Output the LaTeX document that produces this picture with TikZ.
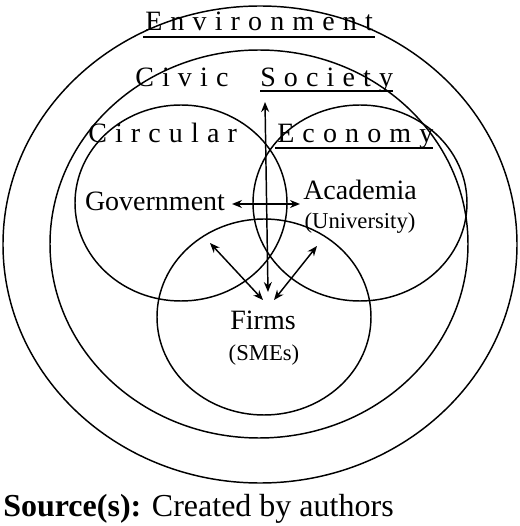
\documentclass[tikz,border=0pt]{standalone}
\usepackage{fontspec}
\setmainfont{Liberation Serif}
\usetikzlibrary{arrows.meta}
\newcommand{\ls}{\kern6.1pt}
\begin{document}
\begin{tikzpicture}[x=0.75pt,y=0.75pt,
  ring/.style={draw=black,line width=1.1pt},
  link/.style={line width=1.1pt,{Stealth[length=7.5pt,width=6pt]}-{Stealth[length=7.5pt,width=6pt]}},
  title/.style={inner sep=0pt,anchor=base west,font=\fontsize{21pt}{24pt}\selectfont},
  actor/.style={inner sep=0pt,anchor=base,font=\fontsize{21pt}{24pt}\selectfont},
  sub/.style={inner sep=0pt,anchor=base,font=\fontsize{17pt}{20pt}\selectfont},
  uline/.style={line width=1.1pt}]
\useasboundingbox (0,0) rectangle (520,526);
% circles
\draw[ring] (260,281.5) ellipse [x radius=257, y radius=238.5];
\draw[ring] (259,282) ellipse [x radius=209, y radius=194];
\draw[ring] (181,323) ellipse [x radius=106, y radius=98];
\draw[ring] (360,323) ellipse [x radius=107, y radius=98];
\draw[ring] (264,209) ellipse [x radius=107, y radius=98];
% titles
\node[title] (env) at (145,495) {E\ls n\ls v\ls i\ls r\ls o\ls n\ls m\ls e\ls n\ls t};
\draw[uline] (143,489) -- (375,489);
\node[title] (civic) at (135,439) {C\ls i\ls v\ls i\ls c};
\node[title] (soc) at (260,439) {S\ls o\ls c\ls i\ls e\ls t\ls y};
\draw[uline] (260,435) -- (393,435);
\node[title] (circ) at (88,383) {C\ls i\ls r\ls c\ls u\ls l\ls a\ls r};
\node[title] (eco) at (277,383) {E\ls c\ls o\ls n\ls o\ls m\ls y};
\draw[uline] (275,378) -- (433,378);
% actors
\node[actor] (gov) at (155,315) {Government};
\node[actor] (aca) at (360,326) {Academia};
\node[sub] (uni) at (360,297) {(University)};
\node[actor] (firm) at (263,196) {Firms};
\node[sub] (sme) at (264,166) {(SMEs)};
% arrows
\coordinate (vt) at (265,424);
\coordinate (vb) at (268,234);
\coordinate (hl) at (232,322);
\coordinate (hr) at (300,322);
\coordinate (lt) at (210,283);
\coordinate (lb) at (263,226);
\coordinate (rt) at (317,280);
\coordinate (rb) at (274,226);
\draw[link] (vt) -- (vb);
\draw[link] (hl) -- (hr);
\draw[link] (lt) -- (lb);
\draw[link] (rt) -- (rb);
% source
\node[inner sep=0pt,anchor=base west,font=\fontsize{24pt}{27pt}\selectfont] (src) at (3,9) {\textbf{Source(s):} Created by authors};
\end{tikzpicture}
\end{document}
